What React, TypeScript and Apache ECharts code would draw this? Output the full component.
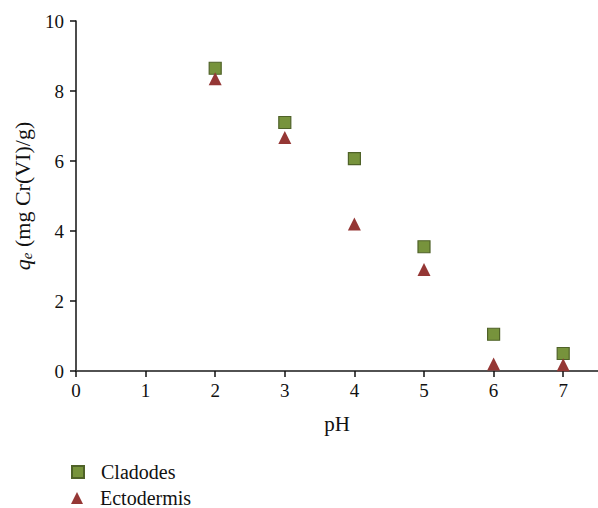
import React, { useEffect, useRef } from "react";
import * as echarts from "echarts";

const phValues = [2, 3, 4, 5, 6, 7];
const cladodes = [8.65, 7.1, 6.07, 3.55, 1.05, 0.5];
const ectodermis = [8.35, 6.67, 4.2, 2.9, 0.2, 0.18];
const seriesNames = ["Cladodes", "Ectodermis"];
const xTicks = [0, 1, 2, 3, 4, 5, 6, 7];

const FONT = "Liberation Serif";
const INK = "#111";

export default function App() {
  const ref = useRef<HTMLDivElement>(null);
  useEffect(() => {
    if (!ref.current) return;
    const chart = echarts.init(ref.current, null, { renderer: "svg" });
    const legendBase = {
      orient: "horizontal",
      left: 71,
      padding: 0,
      itemWidth: 12,
      itemHeight: 12,
      textStyle: { fontFamily: FONT, fontSize: 20, lineHeight: 20, color: INK, padding: [0, 0, 0, 12] },
    };
    chart.setOption({
      animation: false,
      backgroundColor: "#fff",
      textStyle: { fontFamily: FONT },
      grid: { left: 76, top: 21, right: 0, bottom: 137, containLabel: false },
      legend: [
        { ...legendBase, top: 462, data: [{ name: seriesNames[0], icon: "rect" }] },
        { ...legendBase, top: 488, data: [{ name: seriesNames[1], icon: "triangle" }] },
      ],
      xAxis: [
        {
          type: "value",
          min: 0,
          max: 7.5,
          interval: 1,
          name: "pH",
          nameLocation: "middle",
          nameGap: 42,
          nameTextStyle: { fontFamily: FONT, fontSize: 21, color: INK },
          axisLine: { show: true, onZero: false, lineStyle: { color: INK, width: 1.5 } },
          axisTick: { show: true, inside: false, length: 6, customValues: xTicks, lineStyle: { color: INK, width: 1.5 } },
          axisLabel: {
            fontFamily: FONT,
            fontSize: 19,
            color: INK,
            margin: 10,
            customValues: xTicks,
          },
          splitLine: { show: false },
        },
        {
          type: "value",
          position: "top",
          min: 0,
          max: 7.5,
          axisLine: { show: true, lineStyle: { color: "#555", width: 1.5 } },
          axisTick: { show: false },
          axisLabel: { show: false },
          splitLine: { show: false },
        },
      ],
      yAxis: {
        type: "value",
        min: 0,
        max: 10,
        interval: 2,
        name: "{q|q}{e|e}{n| (mg Cr(VI)/g)}",
        nameLocation: "middle",
        nameGap: 36,
        nameTextStyle: {
          fontFamily: FONT,
          fontSize: 22,
          color: INK,
          rich: {
            q: { fontFamily: FONT, fontSize: 22, fontStyle: "italic", color: INK },
            e: { fontFamily: FONT, fontSize: 15, fontStyle: "italic", color: INK, verticalAlign: "bottom", padding: [8, 0, 0, 0] },
            n: { fontFamily: FONT, fontSize: 22, color: INK },
          },
        },
        axisLine: { show: true, lineStyle: { color: INK, width: 1.5 } },
        axisTick: { show: true, inside: false, length: 6, lineStyle: { color: INK, width: 1.5 } },
        axisLabel: { fontFamily: FONT, fontSize: 19, color: INK, margin: 12 },
        splitLine: { show: false },
      },
      series: [
        {
          name: seriesNames[0],
          type: "scatter",
          symbol: "rect",
          symbolSize: 12,
          itemStyle: { color: "#77933c", borderColor: "#4f6228", borderWidth: 1.2, opacity: 1 },
          data: phValues.map((x, i) => [x, cladodes[i]]),
          z: 3,
        },
        {
          name: seriesNames[1],
          type: "scatter",
          symbol: "triangle",
          symbolSize: 13,
          itemStyle: { color: "#953735", opacity: 1 },
          data: phValues.map((x, i) => [x, ectodermis[i]]),
          z: 4,
        },
      ],
    });
    return () => chart.dispose();
  }, []);
  return <div ref={ref} style={{ width: 598, height: 508, position: "absolute", left: 0, top: 0 }} />;
}
